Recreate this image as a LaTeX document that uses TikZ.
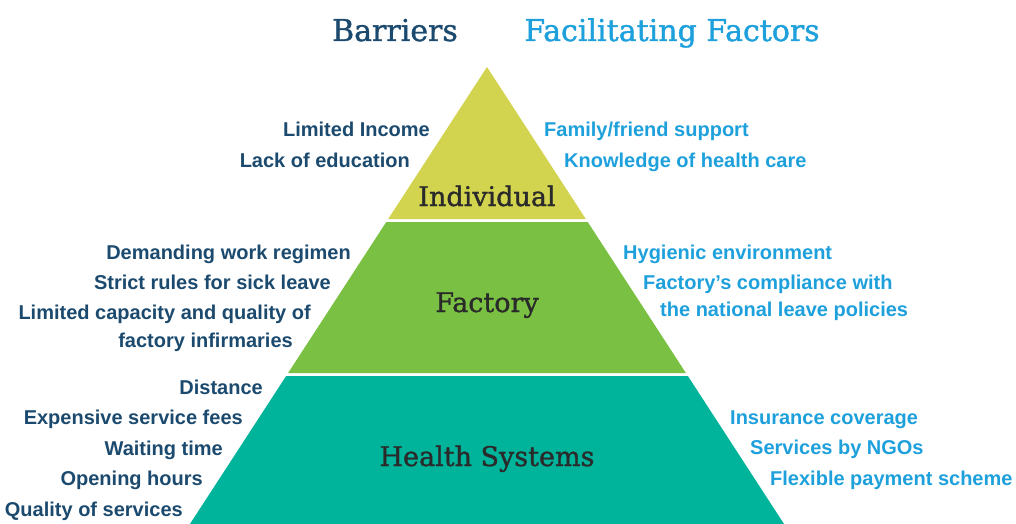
\documentclass[tikz,border=0pt]{standalone}
\usepackage{fontspec}
\setmainfont{Liberation Sans}
\newfontfamily\slabfont[FakeBold=1.2]{DejaVu Serif}
\definecolor{bardark}{HTML}{1B4A6E}
\definecolor{facblue}{HTML}{1DA0DB}
\definecolor{bandyellow}{HTML}{D2D34F}
\definecolor{bandgreen}{HTML}{7AC143}
\definecolor{bandteal}{HTML}{00B49B}
\definecolor{labeldark}{HTML}{2A2A2A}
\tikzset{
  barrier/.style={anchor=base east, inner sep=0pt, text=bardark, font=\bfseries\fontsize{20}{24}\selectfont},
  facil/.style={anchor=base west, inner sep=0pt, text=facblue, font=\bfseries\fontsize{20}{24}\selectfont},
  level/.style={anchor=base, inner sep=0pt, text=labeldark, font=\slabfont\fontsize{27}{32}\selectfont},
  heading/.style={anchor=base, inner sep=0pt, font=\slabfont\fontsize{30}{36}\selectfont},
}
\begin{document}
\begin{tikzpicture}[x=1pt,y=-1pt]
\useasboundingbox (0,0) rectangle (1016,524);
% bands
\fill[bandyellow] (487,67) -- (585.8,219) -- (388.2,219) -- cycle;
\fill[bandgreen] (386.25,222) -- (587.75,222) -- (685.9,373) -- (288.1,373) -- cycle;
\fill[bandteal] (286.15,376) -- (687.85,376) -- (784.05,524) -- (189.95,524) -- cycle;
% headings
\node[heading, text=bardark] (hbar) at (395,41) {Barriers};
\node[heading, text=facblue] (hfac) at (672,41) {Facilitating Factors};
% level labels
\node[level] (lind) at (487,206) {Individual};
\node[level] (lfac) at (487,312) {Factory};
\node[level] (lhs) at (487,466) {Health Systems};
% barriers
\node[barrier] (b1) at (430,136) {Limited Income};
\node[barrier] (b2) at (410,167) {Lack of education};
\node[barrier] (b3) at (351,259) {Demanding work regimen};
\node[barrier] (b4) at (331,289) {Strict rules for sick leave};
\node[barrier] (b5) at (311,319) {Limited capacity and quality of};
\node[barrier] (b6) at (293,347) {factory infirmaries};
\node[barrier] (b7) at (263,394) {Distance};
\node[barrier] (b8) at (243,424) {Expensive service fees};
\node[barrier] (b9) at (223,455) {Waiting time};
\node[barrier] (b10) at (203,485) {Opening hours};
\node[barrier] (b11) at (183,516) {Quality of services};
% facilitating factors
\node[facil] (f1) at (544,136) {Family/friend support};
\node[facil] (f2) at (564,167) {Knowledge of health care};
\node[facil] (f3) at (623,259) {Hygienic environment};
\node[facil] (f4) at (643,289) {Factory’s compliance with};
\node[facil] (f5) at (660,316) {the national leave policies};
\node[facil] (f6) at (730,424) {Insurance coverage};
\node[facil] (f7) at (750,454) {Services by NGOs};
\node[facil] (f8) at (770,485) {Flexible payment scheme};
\end{tikzpicture}
\end{document}
